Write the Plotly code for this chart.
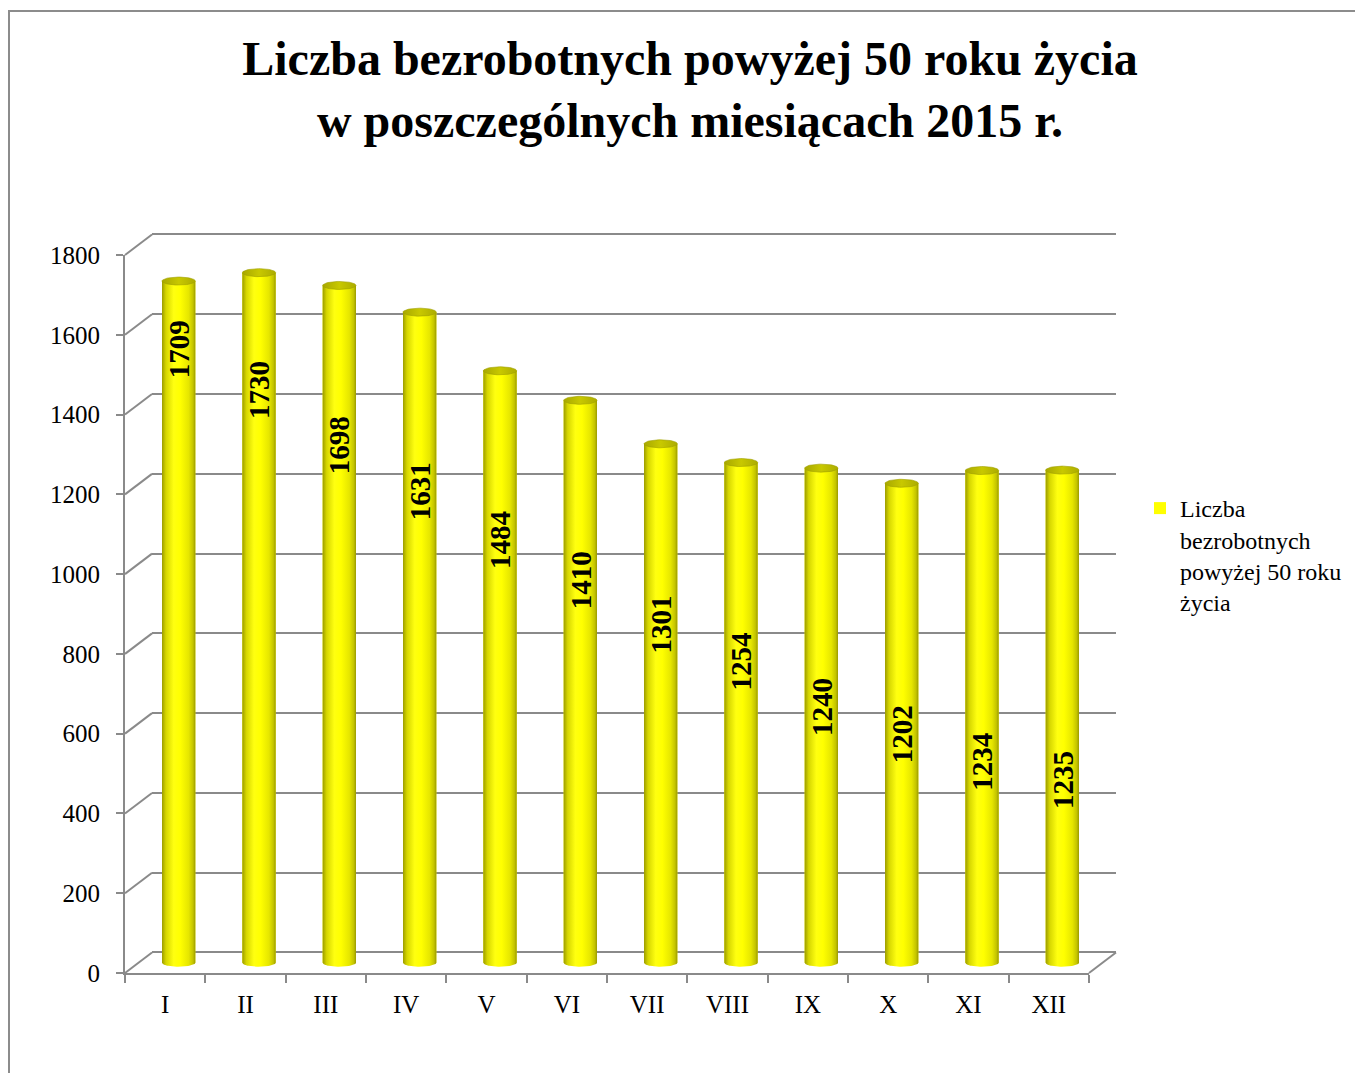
import numpy as np
import plotly.graph_objects as go

# ---------------- data ----------------
months = ["I", "II", "III", "IV", "V", "VI", "VII", "VIII", "IX", "X", "XI", "XII"]
values = [1709, 1730, 1698, 1631, 1484, 1410, 1301, 1254, 1240, 1202, 1234, 1235]
label_at = [1537, 1436, 1298, 1181, 1060, 960, 847, 755, 642, 572, 504, 459]
y_ticks = [0, 200, 400, 600, 800, 1000, 1200, 1400, 1600, 1800]
series_name = "Liczba<br>bezrobotnych<br>powyżej 50 roku<br>życia"
title_text = "<b>Liczba bezrobotnych powyżej 50 roku życia<br>w poszczególnych miesiącach 2015 r.</b>"

# ---------------- geometry (page pixels) ----------------
OFF = 8                      # page body margin
FW, FH = 1355, 1065          # figure size
X0, Y0 = 125, 973            # front plane origin (page px)
CW = (1089 - 125) / 12       # category width
K = 718 / 1800               # px per unit
DX, DY = 27, -20.5           # depth offset of back wall
GRID = "#8a8a8a"
FONT = "Liberation Serif"
n = len(months)
idx = list(range(n))


def px(x):
    return (x - OFF) / FW


def py(y):
    return 1 - (y - OFF) / FH


def domains(f, ylo, yhi):
    xl = X0 + f * DX
    xr = xl + n * CW
    yb = Y0 + f * DY - ylo * K
    yt = Y0 + f * DY - yhi * K
    return [px(xl), px(xr)], [py(yb), py(yt)]


fx, fy = domains(0, 0, 1800)
bx, by = domains(1, 0, 1806)
MID_LO = -60
mx, my = domains(0.5, MID_LO, 1800)

fig = go.Figure()

# invisible traces anchoring front and back planes
fig.add_trace(go.Scatter(x=idx, y=values, mode="markers", marker=dict(opacity=0),
                         showlegend=False, hoverinfo="skip", xaxis="x", yaxis="y"))
fig.add_trace(go.Scatter(x=idx, y=values, mode="markers", marker=dict(opacity=0),
                         showlegend=False, hoverinfo="skip", xaxis="x2", yaxis="y2"))

# bars (mid depth plane)
BW = 0.415
fig.add_trace(go.Bar(x=idx, y=values, width=BW, marker=dict(color="#ffff00", line=dict(width=0)),
                     name=series_name, xaxis="x3", yaxis="y3", showlegend=True))

# cylinder shading
hw = BW / 2
e = 4 / K
body_scale = [[0, "#9c9c00"], [0.12, "#d6d600"], [0.35, "#ffff10"], [0.55, "#ffff00"],
              [0.8, "#e6e600"], [0.93, "#c4c400"], [1, "#9a9a00"]]
cap_scale = [[0, "#a8a800"], [0.5, "#c8c800"], [1, "#acac00"]]
for i, v in zip(idx, values):
    t = np.linspace(np.pi, 2 * np.pi, 40)
    xs = list(i + hw * np.cos(t)) + [i + hw, i - hw, i - hw]
    ys = list(e * np.sin(t)) + [v, v, 0]
    fig.add_trace(go.Scatter(x=xs, y=ys, mode="lines", fill="toself", line=dict(width=0),
                             fillgradient=dict(type="horizontal", colorscale=body_scale),
                             showlegend=False, hoverinfo="skip", xaxis="x3", yaxis="y3"))
    t2 = np.linspace(0, 2 * np.pi, 60)
    fig.add_trace(go.Scatter(x=i + hw * np.cos(t2), y=v + e * np.sin(t2), mode="lines",
                             fill="toself", line=dict(width=0.6, color="#a0a000"),
                             fillgradient=dict(type="horizontal", colorscale=cap_scale),
                             showlegend=False, hoverinfo="skip", xaxis="x3", yaxis="y3"))

# data labels
for i, v, la in zip(idx, values, label_at):
    fig.add_annotation(x=i, y=la, xref="x3", yref="y3", text=f"<b>{v}</b>", textangle=-90,
                       showarrow=False, font=dict(family=FONT, size=29, color="black"))

# 3D frame lines: connectors from front axis to back wall
shapes = []
for v in y_ticks:
    shapes.append(dict(type="line", xref="paper", yref="paper",
                       x0=px(X0), y0=py(Y0 - v * K), x1=px(X0 + DX), y1=py(Y0 + DY - v * K),
                       line=dict(color=GRID, width=2)))
shapes.append(dict(type="line", xref="paper", yref="paper",
                   x0=px(X0 + n * CW), y0=py(Y0), x1=px(X0 + n * CW + DX), y1=py(Y0 + DY),
                   line=dict(color=GRID, width=2)))
# outer chart border
shapes.append(dict(type="rect", xref="paper", yref="paper", x0=px(9), y0=py(1120), x1=px(1420),
                   y1=py(11), line=dict(color="#8c8c8c", width=2), layer="below"))

tickfont = dict(family=FONT, size=25, color="black")

fig.update_layout(
    width=FW, height=FH,
    margin=dict(l=0, r=0, t=0, b=0, autoexpand=False),
    paper_bgcolor="white", plot_bgcolor="rgba(0,0,0,0)",
    title=dict(text=title_text, x=px(690), xanchor="center", y=py(75), yanchor="top",
               yref="paper", font=dict(family=FONT, size=48, color="black")),
    barmode="overlay",
    showlegend=True,
    legend=dict(x=px(1140), y=py(486), xanchor="left", yanchor="top", valign="top",
                font=dict(family=FONT, size=24, color="black"), itemwidth=30,
                bgcolor="rgba(0,0,0,0)", tracegroupgap=0),
    shapes=shapes,
    # front plane
    xaxis=dict(domain=fx, range=[-0.5, n - 0.5], anchor="y", tickvals=idx, ticktext=months,
               ticks="", showline=True, linecolor=GRID, linewidth=2, showgrid=False,
               zeroline=False, tickfont=tickfont, ticklabelstandoff=8, automargin=False,
               minor=dict(tickvals=[k - 0.5 for k in range(n + 1)], ticks="outside",
                          ticklen=8, tickcolor=GRID, tickwidth=2, showgrid=False)),
    yaxis=dict(domain=fy, range=[0, 1800], anchor="x", tickvals=y_ticks, ticks="outside",
               ticklen=7, tickcolor=GRID, tickwidth=2, showline=True, linecolor=GRID,
               linewidth=2, showgrid=False, zeroline=False, tickfont=tickfont,
               ticklabelstandoff=11, automargin=False),
    # back wall
    xaxis2=dict(domain=bx, range=[-0.5, n - 0.5], anchor="y2", visible=False, automargin=False),
    yaxis2=dict(domain=by, range=[0, 1806], anchor="x2", tickvals=y_ticks, showgrid=True,
                gridcolor=GRID, gridwidth=2, zeroline=True, zerolinecolor=GRID,
                zerolinewidth=2, showticklabels=False, ticks="", showline=False,
                automargin=False),
    # mid plane (bars)
    xaxis3=dict(domain=mx, range=[-0.5, n - 0.5], anchor="y3", visible=False, automargin=False),
    yaxis3=dict(domain=my, range=[MID_LO, 1800], anchor="x3", visible=False, automargin=False),
)

fig.write_html("out.html")
